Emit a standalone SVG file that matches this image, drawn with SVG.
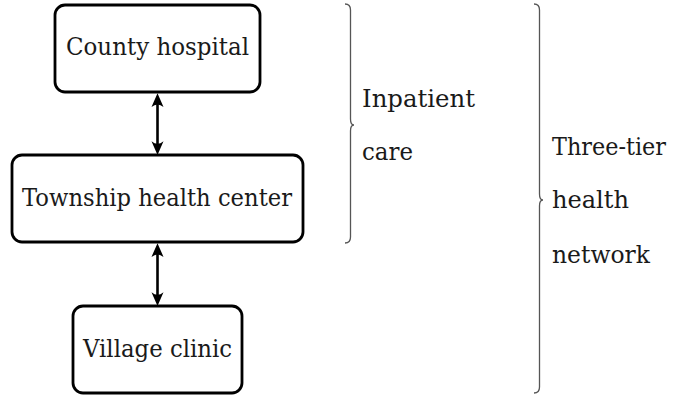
<svg xmlns="http://www.w3.org/2000/svg" width="680" height="398" viewBox="0 0 680 398">
<style>
.box{fill:#fff;stroke:#000;stroke-width:2.8}
.t{font-size:24px;fill:#1a1a1a}
.conn{stroke:#000;stroke-width:2.6;fill:none}
.brace{stroke:#555;stroke-width:1.3;fill:none}
</style>
<defs>
<marker id="ah" viewBox="0 0 12 12" refX="6" refY="6" markerWidth="15" markerHeight="15" markerUnits="userSpaceOnUse" orient="auto-start-reverse">
<path d="M11.5,6 L0.5,1.2 Q4.5,6 0.5,10.8 Z" fill="#000"/>
</marker>
</defs>
<g font-family="'DejaVu Serif','Liberation Serif',serif">
<g id="county"><rect class="box" x="55" y="5" width="205" height="87" rx="10"/><text class="t" x="66" y="55" textLength="183" lengthAdjust="spacingAndGlyphs">County hospital</text></g>
<g id="township"><rect class="box" x="12" y="155" width="291" height="87" rx="10"/><text class="t" x="22" y="206" textLength="270" lengthAdjust="spacingAndGlyphs">Township health center</text></g>
<g id="village"><rect class="box" x="73" y="306" width="169" height="87" rx="10"/><text class="t" x="83" y="357" textLength="149" lengthAdjust="spacingAndGlyphs">Village clinic</text></g>
<g id="connectors">
<line class="conn" x1="157.5" y1="100" x2="157.5" y2="148" marker-start="url(#ah)" marker-end="url(#ah)"/>
<line class="conn" x1="157.5" y1="250" x2="157.5" y2="299" marker-start="url(#ah)" marker-end="url(#ah)"/>
</g>
<g id="inpatient">
<path class="brace" d="M345,4 Q350.5,4 350.5,10 L350.5,119 Q350.5,125 354,125 Q350.5,125 350.5,131 L350.5,237 Q350.5,243 345,243"/>
<text class="t" x="362" y="107" textLength="113" lengthAdjust="spacingAndGlyphs">Inpatient</text>
<text class="t" x="362" y="160" textLength="51" lengthAdjust="spacingAndGlyphs">care</text>
</g>
<g id="network">
<path class="brace" d="M534,4 Q539.5,4 539.5,10 L539.5,194 Q539.5,200 543,200 Q539.5,200 539.5,206 L539.5,387 Q539.5,393 534,393"/>
<text class="t" x="552" y="155" textLength="114" lengthAdjust="spacingAndGlyphs">Three-tier</text>
<text class="t" x="552" y="208" textLength="77" lengthAdjust="spacingAndGlyphs">health</text>
<text class="t" x="552" y="263" textLength="98" lengthAdjust="spacingAndGlyphs">network</text>
</g>
</g>
</svg>
